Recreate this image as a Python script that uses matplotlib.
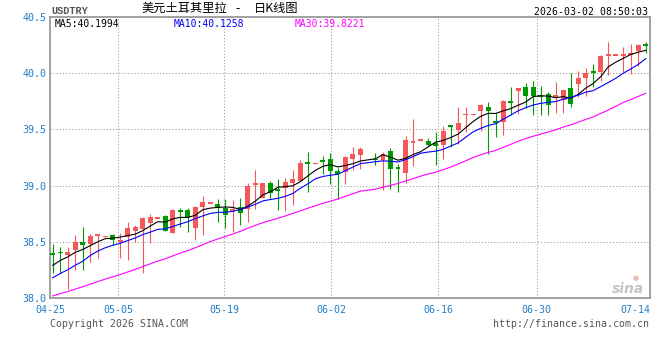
import numpy as np
import pandas as pd
import matplotlib
matplotlib.use("Agg")
import matplotlib.pyplot as plt

# ---------------- data ----------------
symbol = "USDTRY"
title_parts = ["美元土耳其里拉", "-", "日K线图"]
timestamp = "2026-03-02 08:50:03"

nan = np.nan
open_ = [38.40, 38.41, 38.38, 38.43, 38.50, 38.48, 38.55, 38.545, 38.56, 38.50,
         38.54, 38.60, 38.61, 38.67, 38.71, 38.73, 38.58, 38.78, 38.78, 38.62,
         38.81, 38.845, 38.84, 38.80, 38.78, 38.81, 38.79, 39.01, 38.89, 39.02,
         38.96, 38.98, 39.02, 39.04, 39.21, 39.195, 39.225, 39.24, 39.13, 39.12,
         39.24, 39.27, nan, 39.235, 39.23, 39.305, 39.165, 39.11, 39.38, 39.40,
         39.395, 39.375, 39.36, 39.53, 39.495, 39.625, 39.63, 39.66, 39.70, 39.57,
         39.57, 39.75, 39.84, 39.88, 39.88, 39.805, 39.815, 39.79, 39.76, 39.865,
         39.905, 39.955, 40.01, 40.015, 40.16, 40.16, 40.16, 40.165, 40.20, 40.255]
high = [38.48, 38.45, 38.45, 38.56, 38.63, 38.57, 38.57, 38.55, 38.57, 38.58,
        38.68, 38.65, 38.72, 38.75, 38.715, 38.74, 38.79, 38.80, 38.80, 38.82,
        38.91, 38.85, 38.88, 38.88, 38.87, 38.89, 39.02, 39.14, 39.02, 39.04,
        39.06, 39.07, 39.14, 39.23, 39.30, 39.20, 39.26, 39.29, 39.16, 39.26,
        39.345, 39.34, nan, 39.29, 39.30, 39.335, 39.19, 39.44, 39.59, 39.405,
        39.42, 39.48, 39.53, 39.535, 39.70, 39.70, 39.635, 39.73, 39.74, 39.65,
        39.76, 39.875, 39.87, 39.91, 39.935, 39.89, 39.83, 39.92, 39.85, 40.00,
        40.02, 40.05, 40.08, 40.16, 40.28, 40.165, 40.23, 40.26, 40.26, 40.275]
low = [38.22, 38.22, 38.08, 38.25, 38.25, 38.32, 38.36, 38.545, 38.47, 38.36,
       38.34, 38.50, 38.22, 38.49, 38.71, 38.60, 38.58, 38.63, 38.59, 38.52,
       38.56, 38.845, 38.68, 38.62, 38.59, 38.65, 38.68, 38.79, 38.89, 38.89,
       38.78, 38.77, 38.83, 39.04, 38.94, 39.195, 39.10, 39.01, 38.88, 39.01,
       39.14, 39.15, nan, 39.18, 38.96, 38.97, 38.94, 39.02, 39.17, 39.40,
       39.35, 39.18, 39.24, 39.34, 39.37, 39.48, 39.63, 39.49, 39.28, 39.43,
       39.45, 39.63, 39.64, 39.69, 39.63, 39.63, 39.63, 39.65, 39.65, 39.70,
       39.79, 39.80, 39.88, 39.93, 39.98, 40.16, 40.01, 39.99, 40.06, 40.18]
close = [38.38, 38.40, 38.41, 38.50, 38.47, 38.55, 38.57, 38.55, 38.52, 38.52,
         38.62, 38.63, 38.71, 38.72, 38.715, 38.60, 38.78, 38.77, 38.72, 38.81,
         38.85, 38.85, 38.80, 38.74, 38.79, 38.76, 39.00, 39.02, 39.02, 38.93,
         38.955, 39.03, 39.06, 39.20, 39.19, 39.20, 39.21, 39.13, 39.10, 39.255,
         39.28, 39.33, nan, 39.23, 39.28, 39.145, 39.145, 39.41, 39.40, 39.405,
         39.36, 39.355, 39.49, 39.525, 39.56, 39.64, 39.634, 39.72, 39.66, 39.555,
         39.755, 39.735, 39.87, 39.80, 39.80, 39.79, 39.72, 39.80, 39.85, 39.73,
         39.955, 40.00, 40.005, 40.155, 40.165, 40.165, 40.17, 40.178, 40.255, 40.25]
# closes of the 29 sessions before the first visible candle (needed for the moving averages)
prior_close = [37.80, 37.83, 37.85, 37.84, 37.87, 37.88, 37.90, 37.89, 37.92, 37.93,
               37.95, 37.96, 37.98, 37.97, 38.00, 38.01, 38.02, 38.04, 38.05, 38.06,
               38.02, 38.08, 38.10, 38.11, 38.04, 38.18, 38.25, 38.30, 38.34]

ma_periods = [5, 10, 30]
ma_labels = ["MA5:40.1994", "MA10:40.1258", "MA30:39.8221"]
tick_labels = ["04-25", "05-05", "05-19", "06-02", "06-16", "06-30", "07-14"]
y_ticks = [38.0, 38.5, 39.0, 39.5, 40.0, 40.5]

# ---------------- layout / style ----------------
W, H = 660, 360
def fx(x): return x / W
def fy(y): return 1 - y / H

RED = "#f55858"
GREEN = "#009a00"
BLUE_TXT = "#1f7fcc"
MA_COLORS = ["#000000", "#0000ff", "#ff00ff"]
MONO = "DejaVu Sans Mono"

fig = plt.figure(figsize=(W / 100, H / 100), dpi=100)
ax = fig.add_axes([fx(50), fy(298), 600 / W, 281 / H])

o = np.array(open_); h = np.array(high); l = np.array(low); c = np.array(close)
slots = np.arange(len(c))
valid = ~np.isnan(c)

# candles
for i in slots[valid]:
    up = c[i] >= o[i]
    col = RED if up else GREEN
    ax.vlines(i, l[i], h[i], color=col, linewidth=0.8, zorder=2)
    bot = min(o[i], c[i])
    hgt = max(abs(c[i] - o[i]), 0.016)
    if abs(c[i] - o[i]) < 0.016:
        bot = (o[i] + c[i]) / 2 - 0.008
    ax.bar(i, hgt, bottom=bot, width=0.66, color=col, linewidth=0, zorder=3)

# moving averages (computed over the continuous session series)
all_close = pd.Series(list(prior_close) + list(c[valid]))
for n, col in zip(ma_periods, MA_COLORS):
    ma = all_close.rolling(n).mean().values[len(prior_close):]
    ax.plot(slots[valid], ma, color=col, linewidth=0.8, zorder=4)

# axes
x_left, x_right = -0.36, 79.57
ax.set_xlim(x_left, x_right)
ax.set_ylim(38.0, 40.5)

tick_pos = [x_left, 8.74, 22.86, 37.08, 51.33, 64.48, x_right]
ax.set_xticks(tick_pos)
ax.set_xticklabels(tick_labels, fontfamily=MONO, fontsize=7.2, color=BLUE_TXT)
xt = ax.get_xticklabels()
xt[-1].set_horizontalalignment("right")
ax.set_yticks(y_ticks)
ax.set_yticklabels([f"{v:.1f}" for v in y_ticks], fontfamily=MONO, fontsize=7.2, color=BLUE_TXT)
ax.tick_params(axis="both", length=0)
ax.tick_params(axis="x", pad=5)
ax.tick_params(axis="y", pad=2.4)

for v in tick_pos[1:-1]:
    ax.axvline(v, color="#999999", linewidth=0.75, linestyle=(0, (1, 2)), zorder=1)
for v in y_ticks[1:-1]:
    ax.axhline(v, color="#999999", linewidth=0.75, linestyle=(0, (1, 2)), zorder=1)

for s in ax.spines.values():
    s.set_color("#9a9a9a")
    s.set_linewidth(1.3)

# header texts
fig.text(fx(51), fy(11.5), symbol, fontfamily="Liberation Mono", fontweight="bold",
         fontsize=7.4, color="#555555", ha="left", va="center")
cjk = ["Noto Sans CJK SC", "DejaVu Sans"]
fig.text(fx(141), fy(8.7), title_parts[0], family=cjk, fontsize=8.8,
         color="#000000", ha="left", va="center")
fig.text(fx(238), fy(8.7), title_parts[1], family=cjk, fontsize=8.8,
         color="#000000", ha="center", va="center")
fig.text(fx(254), fy(8.7), title_parts[2], family=cjk, fontsize=8.8,
         color="#000000", ha="left", va="center")
fig.text(fx(648.5), fy(11.8), timestamp, fontfamily=MONO, fontsize=7.1,
         color="#000000", ha="right", va="center")

for lab, col, x in zip(ma_labels, MA_COLORS, [54.3, 174, 294.7]):
    fig.text(fx(x), fy(23.7), lab, fontfamily=MONO, fontsize=7.0, color=col,
             ha="left", va="center")

# footer
fig.text(fx(50), fy(323.7), "Copyright 2026 SINA.COM", fontfamily=MONO, fontsize=7.1,
         color="#555555", ha="left", va="center")
fig.text(fx(649), fy(323.7), "http://finance.sina.com.cn", fontfamily=MONO, fontsize=7.1,
         color="#555555", ha="right", va="center")

# watermark
fig.text(fx(628), fy(289), "sina", fontfamily="DejaVu Sans", fontstyle="italic",
         fontweight="bold", fontsize=10, color="#c4c4c4", ha="center", va="center", zorder=0)
fig.text(fx(636), fy(278), "●", fontfamily="DejaVu Sans", fontsize=5, color="#f2b8b8",
         ha="center", va="center", zorder=0)

fig.savefig("out.png", dpi=100)
